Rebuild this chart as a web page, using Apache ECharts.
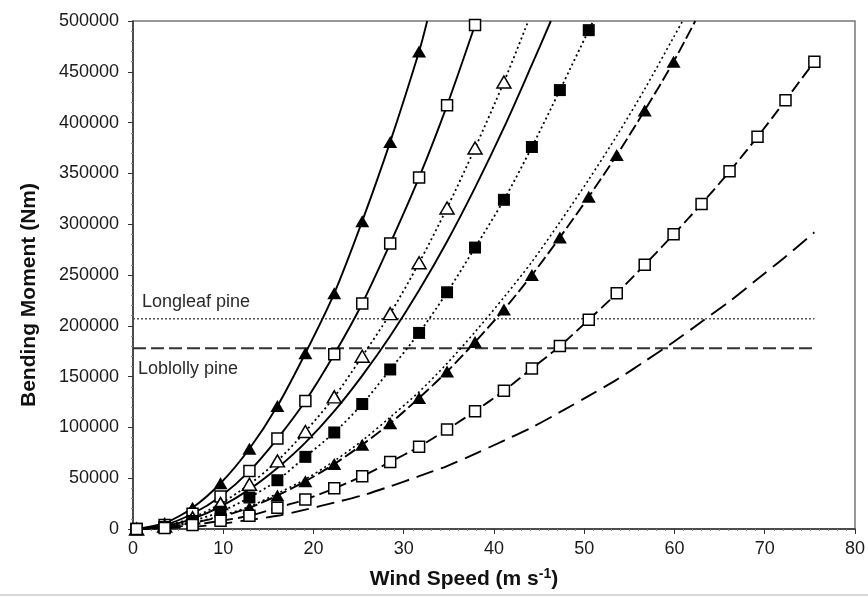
<!DOCTYPE html>
<html>
<head>
<meta charset="utf-8">
<script src="https://cdn.jsdelivr.net/npm/echarts@6/dist/echarts.min.js"></script>
<style>
html,body{margin:0;padding:0;background:#fff;}
#chart{width:868px;height:597px;}
</style>
</head>
<body>
<div id="chart"></div>
<script>
// Wind speeds (m/s) at which model points are plotted
const windSpeed = [0.4, 3.5, 6.6, 9.7, 12.9, 16.0, 19.1, 22.3, 25.4, 28.5, 31.7, 34.8, 37.9, 41.1, 44.2, 47.3, 50.5, 53.6, 56.7, 59.9, 63.0, 66.1, 69.2, 72.3, 75.5];

// Bending moment (Nm) per series
const s1TriSolid   = [0, 6000, 21000, 45000, 79000, 121000, 173000, 232000, 303000, 381000, 470000];
const s1Exit       = [32.6, 500000];
const s2SqSolid    = [0, 4000, 15000, 32000, 57000, 89000, 126000, 172000, 222000, 281000, 346000, 417000, 496000];
const s3TriDotted  = [0, 3000, 11000, 25000, 44000, 67000, 96000, 130000, 170000, 212000, 262000, 316000, 375000, 440000];
const s3Exit       = [43.8, 500000];
const s4Solid      = [0, 3000, 10000, 22000, 39000, 60000, 85000, 116000, 151000, 190000, 235000, 283000, 336000, 395000, 457000];
const s4Exit       = [46.3, 500000];
const s5SqDotted   = [0, 2000, 8000, 17000, 31000, 48000, 71000, 95000, 123000, 157000, 193000, 233000, 277000, 324000, 376000, 432000, 491000];
const s5Exit       = [51.0, 500000];
const s6Dotted     = [0, 2000, 6000, 13000, 22000, 35000, 49000, 67000, 87000, 110000, 135000, 163000, 194000, 228000, 263000, 302000, 344000, 387000, 433000, 484000];
const s6Exit       = [60.9, 500000];
const s7TriDashed  = [0, 2000, 6000, 12000, 21000, 33000, 47000, 64000, 83000, 104000, 129000, 155000, 184000, 216000, 250000, 287000, 327000, 368000, 412000, 460000];
const s7Exit       = [62.3, 500000];
const s8SqDashed   = [0, 1000, 4000, 8000, 13000, 21000, 29000, 40000, 52000, 66000, 81000, 98000, 116000, 136000, 158000, 180000, 206000, 232000, 260000, 290000, 320000, 352000, 386000, 422000, 460000];
const s9Dashed     = [0, 1000, 2000, 5000, 9000, 13000, 19000, 26000, 33000, 42000, 52000, 62000, 74000, 87000, 100000, 115000, 131000, 147000, 165000, 184000, 204000, 224000, 246000, 268000, 292000];

// Reference thresholds
const longleafLimit = 207000;
const loblollyLimit = 178000;
const thresholdRange = [0, 75.5];

const xTicks = {min: 0, max: 80, interval: 10};
const yTicks = {min: 0, max: 500000, interval: 50000};

function pts(vals, exit) {
  const d = vals.map((v, i) => [windSpeed[i], v]);
  if (exit) d.push({value: exit, symbol: 'none'});
  return d;
}

const hollow = {color: '#fff', borderColor: '#000', borderWidth: 1.5};
const filled = {color: '#000', borderColor: '#000', borderWidth: 0};

function mk(data, lineType, width, symbol, size, item) {
  return {
    type: 'line', data: data, smooth: 0.3,
    symbol: symbol, symbolSize: size, showSymbol: symbol !== 'none',
    lineStyle: {color: '#000', width: width, type: lineType},
    itemStyle: item || filled, z: 3, clip: true
  };
}

const FONT = 'Liberation Sans, Arial, sans-serif';
const chart = echarts.init(document.getElementById('chart'), null, {renderer: 'canvas'});
const axisFont = {fontFamily: FONT, fontSize: 18, color: '#1a1a1a'};

function thresholdSeries(value, text, lineStyle, offset) {
  return {
    type: 'line', z: 2, symbol: 'circle', symbolSize: 0, showSymbol: true,
    lineStyle: lineStyle, itemStyle: {color: 'transparent'},
    data: [
      {value: [thresholdRange[0], value], label: {show: true, position: 'right', distance: 0, offset: offset, formatter: text, fontFamily: FONT, fontSize: 18, color: '#2a2a2a'}},
      {value: [thresholdRange[1], value], label: {show: false}}
    ]
  };
}

chart.setOption({
  animation: false,
  backgroundColor: '#fff',
  grid: {left: 133, right: 10, top: 21, bottom: 68, show: true, borderColor: '#777', borderWidth: 1.5, backgroundColor: 'transparent'},
  xAxis: {
    type: 'value', min: xTicks.min, max: xTicks.max, interval: xTicks.interval,
    name: 'Wind Speed (m s{sup|-1})', nameLocation: 'middle', nameGap: 38,
    nameTextStyle: {fontFamily: FONT, fontSize: 21, fontWeight: 'bold', color: '#111', padding: [0, 60, 0, 0],
      rich: {sup: {fontFamily: FONT, fontSize: 14, fontWeight: 'bold', color: '#111', verticalAlign: 'top', padding: [0, 0, 10, 0]}}},
    axisLine: {lineStyle: {color: '#333', width: 1.5}},
    axisTick: {inside: false, length: 5, lineStyle: {color: '#333'}},
    minorTick: {show: true, splitNumber: 10, length: 2, lineStyle: {color: '#888'}},
    splitLine: {show: false},
    axisLabel: Object.assign({margin: 11}, axisFont)
  },
  yAxis: {
    type: 'value', min: yTicks.min, max: yTicks.max, interval: yTicks.interval,
    name: 'Bending Moment (Nm)', nameLocation: 'middle', nameGap: 93,
    nameTextStyle: {fontFamily: FONT, fontSize: 21, fontWeight: 'bold', color: '#111', padding: [0, 40, 0, 0]},
    axisLine: {lineStyle: {color: '#333', width: 1.5}},
    axisTick: {inside: false, length: 5, lineStyle: {color: '#333'}},
    minorTick: {show: true, splitNumber: 5, length: 2, lineStyle: {color: '#888'}},
    splitLine: {show: false},
    axisLabel: Object.assign({margin: 14, formatter: v => String(v)}, axisFont)
  },
  series: [
    thresholdSeries(longleafLimit, 'Longleaf pine', {color: '#555', width: 1.6, type: [2, 2]}, [9, -17]),
    thresholdSeries(loblollyLimit, 'Loblolly pine', {color: '#333', width: 2, type: [13, 5]}, [5, 21]),
    mk(pts(s1TriSolid, s1Exit), 'solid', 1.9, 'triangle', [14, 12], filled),
    mk(pts(s2SqSolid), 'solid', 1.9, 'rect', 11, hollow),
    mk(pts(s3TriDotted, s3Exit), [2, 3], 1.8, 'triangle', [14, 12], hollow),
    mk(pts(s4Solid, s4Exit), 'solid', 1.9, 'none', 0),
    mk(pts(s5SqDotted, s5Exit), [2, 3], 1.8, 'rect', 12, filled),
    mk(pts(s6Dotted, s6Exit), [2, 3], 1.6, 'none', 0),
    mk(pts(s7TriDashed, s7Exit), [12, 4], 1.9, 'triangle', [14, 12], filled),
    mk(pts(s8SqDashed), [12, 5], 1.9, 'rect', 11, hollow),
    mk(pts(s9Dashed), [18, 8], 1.9, 'none', 0)
  ],
  graphic: [{type: 'line', shape: {x1: 0, y1: 595, x2: 868, y2: 595}, style: {stroke: '#ccc', lineWidth: 1.5}}]
});
</script>
</body>
</html>
